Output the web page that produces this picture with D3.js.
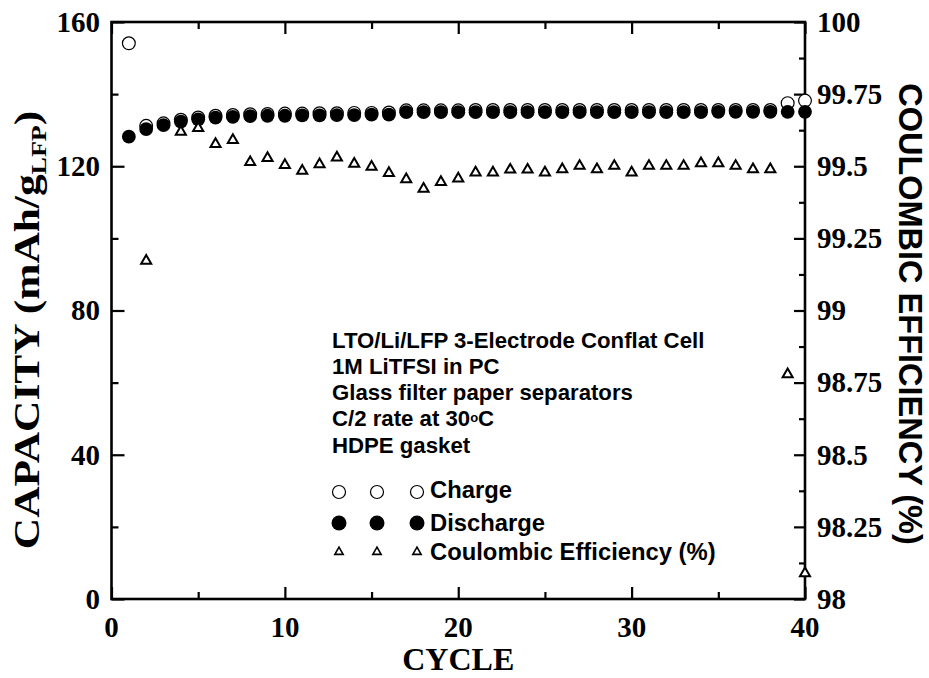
<!DOCTYPE html>
<html><head><meta charset="utf-8">
<script src="https://cdn.jsdelivr.net/npm/d3@7"></script>
<style>body{margin:0;background:#fff}svg{display:block}</style>
</head><body><svg id="c" width="929" height="678"></svg>
<script>
const cycles = d3.range(1, 41);
const charge = [154.1,131.2,131.9,132.9,133.5,134.0,134.2,134.4,134.5,134.6,134.6,134.7,134.7,134.8,134.8,134.9,135.5,135.5,135.5,135.5,135.6,135.6,135.6,135.6,135.6,135.6,135.6,135.6,135.6,135.6,135.6,135.6,135.6,135.6,135.6,135.6,135.6,135.6,137.5,138.2];
const discharge = [128.2,130.3,131.4,132.4,133.0,133.5,133.7,133.9,134.0,134.0,134.1,134.1,134.2,134.2,134.3,134.3,135.0,135.0,135.0,135.0,135.0,135.0,135.0,135.0,135.0,135.0,135.0,135.0,135.0,135.0,135.0,135.0,135.0,135.0,135.1,135.1,135.1,135.1,135.1,135.1];
const ce = [null,99.172,null,99.619,99.632,99.577,99.591,99.514,99.528,99.504,99.484,99.507,99.530,99.508,99.498,99.476,99.455,99.422,99.445,99.457,99.478,99.478,99.488,99.488,99.478,99.489,99.501,99.489,99.501,99.478,99.501,99.501,99.501,99.510,99.510,99.501,99.489,99.489,98.779,98.089];
const xTicks = [0,10,20,30,40];
const xMinor = [5,15,25,35];
const yLeftTicks = [0,40,80,120,160];
const yLeftMinor = [20,60,100,140];
const yRightTicks = [98,98.25,98.5,98.75,99,99.25,99.5,99.75,100];
const yRightLabels = ["98","98.25","98.5","98.75","99","99.25","99.5","99.75","100"];
const yRightMinor = [98.125,98.375,98.625,98.875,99.125,99.375,99.625,99.875];
const notes = ["LTO/Li/LFP 3-Electrode Conflat Cell","1M LiTFSI in PC","Glass filter paper separators","C/2 rate at 30","HDPE gasket"];
const legendLabels = ["Charge","Discharge","Coulombic Efficiency (%)"];

const svg = d3.select("#c");
const L = 111.5, R = 805, T = 22, B = 599;
const x = d3.scaleLinear().domain([0,40]).range([L,R]);
const y = d3.scaleLinear().domain([0,160]).range([B,T]);
const y2 = d3.scaleLinear().domain([98,100]).range([B,T]);
const serif = "'Liberation Serif','Times New Roman',serif";
const sans = "'Liberation Sans',Arial,sans-serif";

// frame
svg.append("rect").attr("x",L).attr("y",T).attr("width",R-L).attr("height",B-T)
  .attr("fill","none").attr("stroke","#000").attr("stroke-width",2.6);

const tick = (g) => g.selectAll("line").attr("stroke","#000").attr("stroke-width",2.2);
function ax(gen, tr){ const g = svg.append("g").attr("transform",tr).call(gen); g.select(".domain").remove(); tick(g); }
ax(d3.axisTop(x).tickValues(xTicks).tickSize(12).tickFormat(""), `translate(0,${B})`);
ax(d3.axisTop(x).tickValues(xMinor).tickSize(7).tickFormat(""), `translate(0,${B})`);
ax(d3.axisBottom(x).tickValues(xTicks).tickSize(12).tickFormat(""), `translate(0,${T})`);
ax(d3.axisBottom(x).tickValues(xMinor).tickSize(7).tickFormat(""), `translate(0,${T})`);
ax(d3.axisRight(y).tickValues(yLeftTicks).tickSize(13).tickFormat(""), `translate(${L},0)`);
ax(d3.axisRight(y).tickValues(yLeftMinor).tickSize(7).tickFormat(""), `translate(${L},0)`);
ax(d3.axisLeft(y2).tickValues(yRightTicks).tickSize(11).tickFormat(""), `translate(${R},0)`);
ax(d3.axisLeft(y2).tickValues(yRightMinor).tickSize(6).tickFormat(""), `translate(${R},0)`);

// tick labels
svg.append("g").selectAll("text").data(xTicks).join("text")
  .attr("x",d=>x(d)).attr("y",637).attr("text-anchor","middle")
  .attr("font-family",serif).attr("font-weight","bold").attr("font-size",29).text(d=>d);
svg.append("g").selectAll("text").data(yLeftTicks).join("text")
  .attr("x",100).attr("y",d=>y(d)).attr("dy","0.34em").attr("text-anchor","end")
  .attr("font-family",serif).attr("font-weight","bold").attr("font-size",29).text(d=>d);
svg.append("g").selectAll("text").data(yRightTicks).join("text")
  .attr("x",817).attr("y",d=>y2(d)).attr("dy","0.34em").attr("text-anchor","start")
  .attr("font-family",serif).attr("font-weight","bold").attr("font-size",29).text((d,i)=>yRightLabels[i]);

// axis titles
svg.append("text").attr("x",(L+R)/2).attr("y",670).attr("text-anchor","middle")
  .attr("font-family",serif).attr("font-weight","bold").attr("font-size",32).text("CYCLE");
const lt = svg.append("text").attr("transform","translate(39,330) rotate(-90) scale(1.24,1)").attr("text-anchor","middle")
  .attr("font-family",serif).attr("font-weight","bold").attr("font-size",35);
lt.append("tspan").text("CAPACITY (mAh/g");
lt.append("tspan").attr("font-size",21).attr("dy",7).text("LFP");
lt.append("tspan").attr("dy",-7).text(")");
svg.append("text").attr("transform","translate(899,314) rotate(90)").attr("text-anchor","middle")
  .attr("font-family",sans).attr("font-weight","bold").attr("font-size",32.5).text("COULOMBIC EFFICIENCY (%)");

// data markers
const pts = cycles.map((c,i)=>({c, ch:charge[i], dc:discharge[i], ce:ce[i]}));
svg.append("g").selectAll("circle").data(pts).join("circle")
  .attr("cx",d=>x(d.c)).attr("cy",d=>y(d.ch)).attr("r",6.4)
  .attr("fill","#fff").attr("stroke","#000").attr("stroke-width",1.2);
svg.append("g").selectAll("circle").data(pts).join("circle")
  .attr("cx",d=>x(d.c)).attr("cy",d=>y(d.dc)).attr("r",6.9).attr("fill","#000");
const tri = d3.symbol(d3.symbolTriangle, 44);
svg.append("g").selectAll("path").data(pts.filter(d=>d.ce!=null)).join("path")
  .attr("d",tri).attr("transform",d=>`translate(${x(d.c)},${y2(d.ce)})`)
  .attr("fill","#fff").attr("stroke","#000").attr("stroke-width",2);

// notes
const nt = svg.append("g").attr("font-family",sans).attr("font-weight","bold").attr("font-size",22.2).attr("fill","#000");
const nBase = [348,374,400,426,453];
notes.forEach((s,i)=>{
  const t = nt.append("text").attr("x",332).attr("y",nBase[i]).text(s);
  if(i===3){ t.append("tspan").attr("font-size",13).attr("dy",-4).text("o"); t.append("tspan").attr("dy",4).text("C"); }
});

// legend
const lx = [339,377,417];
const ly = [492,523,552];
const lg = svg.append("g");
lx.forEach(cx=>{
  lg.append("circle").attr("cx",cx).attr("cy",ly[0]).attr("r",6.5).attr("fill","#fff").attr("stroke","#000").attr("stroke-width",1.2);
  lg.append("circle").attr("cx",cx).attr("cy",ly[1]).attr("r",7.5).attr("fill","#000");
  lg.append("path").attr("d",d3.symbol(d3.symbolTriangle,30)).attr("transform",`translate(${cx},${ly[2]})`)
    .attr("fill","#fff").attr("stroke","#000").attr("stroke-width",1.6);
});
lg.selectAll("text").data(legendLabels).join("text")
  .attr("x",430).attr("y",(d,i)=>[498,531,560][i])
  .attr("font-family",sans).attr("font-weight","bold").attr("font-size",23.8).text(d=>d);
</script></body></html>
